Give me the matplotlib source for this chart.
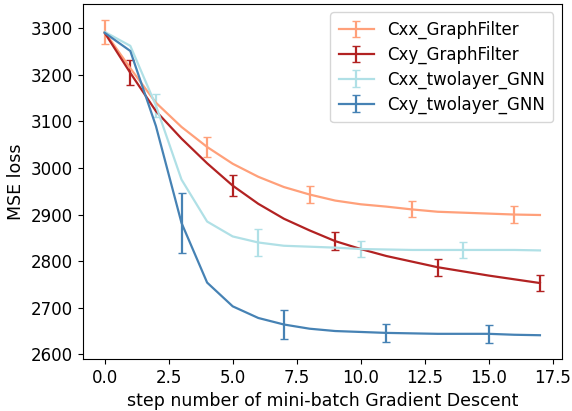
import numpy as np
import matplotlib
matplotlib.use("Agg")
import matplotlib.pyplot as plt

steps = np.arange(18)

cxx_graphfilter = [3292, 3214, 3140, 3088, 3045, 3009, 2981, 2959, 2943, 2930,
                   2922, 2917, 2911, 2906, 2904, 2902, 2900, 2899]
cxy_graphfilter = [3290, 3204, 3122, 3063, 3010, 2962, 2923, 2891, 2866, 2843,
                   2826, 2811, 2799, 2787, 2778, 2769, 2761, 2753]
cxx_twolayer_gnn = [3292, 3262, 3134, 2975, 2885, 2853, 2840, 2833, 2831, 2829,
                    2826, 2825, 2824, 2824, 2824, 2824, 2824, 2823]
cxy_twolayer_gnn = [3290, 3251, 3090, 2882, 2754, 2703, 2678, 2664, 2655, 2650,
                    2648, 2646, 2645, 2644, 2644, 2644, 2642, 2641]

# standard deviations at the steps where error bars are drawn
err_cxx_graphfilter = {0: 25, 4: 21, 8: 18, 12: 17, 16: 18}
err_cxy_graphfilter = {1: 27, 5: 23, 9: 19, 13: 18, 17: 18}
err_cxx_twolayer_gnn = {2: 25, 6: 28, 10: 17, 14: 17}
err_cxy_twolayer_gnn = {3: 64, 7: 31, 11: 20, 15: 19}

labels = ["Cxx_GraphFilter", "Cxy_GraphFilter", "Cxx_twolayer_GNN", "Cxy_twolayer_GNN"]
colors = ["#FFA07A", "#B22222", "#B0E0E6", "#4682B4"]
series = [cxx_graphfilter, cxy_graphfilter, cxx_twolayer_gnn, cxy_twolayer_gnn]
errors = [err_cxx_graphfilter, err_cxy_graphfilter, err_cxx_twolayer_gnn, err_cxy_twolayer_gnn]

fig, ax = plt.subplots(figsize=(5.72, 4.11), dpi=100)
fig.subplots_adjust(left=0.145, right=0.982, top=0.990, bottom=0.127)

for offset, (vals, errs, col, lab) in enumerate(zip(series, errors, colors, labels)):
    yerr = np.zeros(len(steps))
    for k, v in errs.items():
        yerr[k] = v
    ax.errorbar(steps, vals, yerr=yerr, errorevery=(offset, 4), color=col,
                ecolor=col, capsize=3, linewidth=1.6, label=lab)

ax.set_xticks(np.arange(0, 17.6, 2.5))
ax.set_yticks(np.arange(2600, 3301, 100))
ax.tick_params(labelsize=12)
ax.set_xlabel("step number of mini-batch Gradient Descent", fontsize=12.5)
ax.set_ylabel("MSE loss", fontsize=12.5)
ax.legend(loc="upper right", fontsize=12, handlelength=2.1, borderpad=0.5,
          labelspacing=0.4)

fig.savefig("out.png", dpi=100)
